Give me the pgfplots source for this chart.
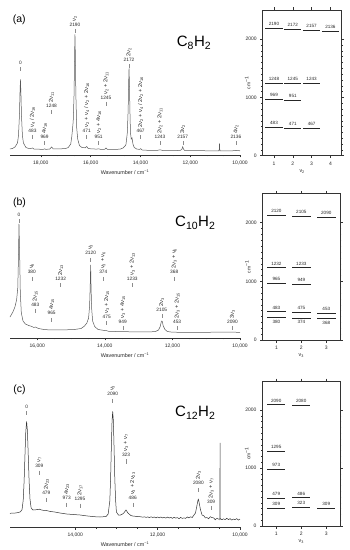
\documentclass[border=0pt]{standalone}
\usepackage{fontspec}
\setmainfont{Liberation Sans}
\usepackage{pgfplots}
\pgfplotsset{compat=1.18}
\newcommand{\fs}[1]{\fontsize{#1}{#1}\selectfont}
\newcommand{\nus}[1]{ν\textsubscript{#1}}
\tikzset{
  lbl/.style={font=\fs{4.8}, inner sep=0pt, text=black!85},
  rlbl/.style={font=\fs{5.6}, inner sep=0pt, rotate=90, anchor=west, text=black!85},
  atk/.style={black!45, line width=0.4pt},
  lvl/.style={font=\fs{4.6}, inner sep=0pt, text=black!85},
}
\newcommand{\ann}[4]{%
  \node[lbl] at (axis cs:#1,#2) {#3};
  \draw[atk] ([yshift=-4.5pt]axis cs:#1,#2) -- ([yshift=-8.5pt]axis cs:#1,#2);
  \node[rlbl] at ([yshift=3.2pt]axis cs:#1,#2) {#4};
}
\newcommand{\lv}[3]{\node[lvl] at ([yshift=4.2pt]axis cs:#1,#2) {#3};}
\newcommand{\lvb}[3]{\node[lvl] at ([yshift=-4.2pt]axis cs:#1,#2) {#3};}
\pgfplotsset{
  spec/.style={
    scale only axis, width=230pt, height=145pt,
    x dir=reverse, xmin=10000, ymin=0, ymax=145,
    axis x line*=bottom, axis y line=none, ytick=\empty,
    xtick pos=left, xticklabel pos=left,
    scaled x ticks=false,
    tick align=outside, major tick length=2.5pt, minor tick length=1.5pt,
    /pgf/number format/1000 sep={,}, /pgf/number format/assume math mode=true,
    ticklabel style={font=\fs{5}, text=black!85},
    xlabel={Wavenumber / cm\textsuperscript{−1}},
    xlabel style={font=\fs{5.4}, text=black!85, at={(axis description cs:0.5,0)}, anchor=center, yshift=-17pt},
    axis line style={black!80, line width=0.5pt},
    every tick/.style={black!80, line width=0.4pt},
    clip=false,
  },
  lev/.style={
    scale only axis,
    ymin=0, ymax=2500, ytick={0,1000,2000}, minor y tick num=9,
    scaled y ticks=false,
    tick align=outside, major tick length=2.5pt, minor tick length=1.3pt,
    /pgf/number format/1000 sep={}, /pgf/number format/assume math mode=true,
    ticklabel style={font=\fs{5}, text=black!85},
    ylabel={cm\textsuperscript{−1}},
    ylabel style={font=\fs{5}, text=black!85, at={(axis description cs:-0.19,0.5)}, anchor=center},
    xlabel style={font=\fs{5.4}, text=black!85, at={(axis description cs:0.5,0)}, anchor=center, yshift=-16pt},
    axis line style={black!80, line width=0.5pt},
    every tick/.style={black!80, line width=0.4pt},
    unbounded coords=jump,
    clip=false,
  },
  lvline/.style={black!85, line width=0.7pt},
  sline/.style={black!65, line width=0.5pt},
}
\begin{document}
\begin{tikzpicture}
\useasboundingbox (0,0) rectangle (349pt,550pt);

% ---------------- (a) spectrum ----------------
\begin{axis}[spec, at={(10pt,395pt)}, anchor=south west, xmax=19240,
  xtick={10000,12000,14000,16000,18000}, minor x tick num=2]
\addplot[sline] coordinates {
(10000,4.2) (10165,4.6) (10300,4.2) (10800,4.2) (10818,6) (10823,11.5) (10828,6) (10850,4.2)
(12000,4.3) (12220,4.5) (12260,5.5) (12285,7) (12301,8.2) (12317,7) (12340,5.5) (12400,4.6)
(12600,4.4) (13100,4.5) (13215,5.2) (13330,4.6) (13900,4.8) (13940,5.2) (13991,6.3) (14040,5.6)
(14150,6) (14250,7.5) (14300,11) (14337,17) (14370,16) (14400,22) (14423,45) (14440,70)
(14458,86.5) (14476,70) (14493,45) (14528,22) (14578,11) (14600,9.5) (14700,7) (14800,6)
(15000,5.5) (15330,5.6) (15385,7) (15440,5.7) (15600,5.6) (15679,6.2) (15760,5.9) (16000,6.2)
(16100,6.6) (16159,8.5) (16220,7.2) (16350,7.5) (16450,9.5) (16520,16) (16560,27) (16595,62)
(16613,98) (16630,120.5) (16647,97) (16665,62) (16700,34) (16735,24) (16760,18) (16800,11)
(16900,7.5) (17000,6.5) (17300,6) (17500,6) (17572,8) (17640,6) (17800,5.6) (17851,6.2)
(17900,5.6) (18100,5.8) (18280,6) (18337,7) (18400,6.5) (18500,6.6) (18600,7.5) (18700,12)
(18740,19) (18780,40) (18800,61.4) (18820,75.5) (18840,61.4) (18860,40) (18900,19) (18940,12)
(19040,8) (19140,6.5) (19240,6)
};
\ann{18820}{92}{0}{}
\ann{16630}{130.3}{2190}{\nus{2}}
\ann{14458}{95}{2172}{2\nus{2}}
\ann{17572}{49}{1248}{2\nus{11}}
\ann{18337}{24.3}{483}{\nus{4} / 2\nus{16}}
\ann{17851}{18.3}{969}{4\nus{16}}
\ann{16159}{24.3}{471}{\nus{2} + \nus{4} / \nus{2} + 2\nus{16}}
\ann{15385}{57.5}{1245}{\nus{2} + 2\nus{11}}
\ann{15679}{18.3}{951}{\nus{2} + 4\nus{16}}
\ann{13991}{24.3}{467}{2\nus{2} + \nus{4} / 2\nus{2} + 2\nus{16}}
\ann{13215}{18.3}{1243}{2\nus{2} + 2\nus{11}}
\ann{12301}{18.3}{2157}{3\nus{2}}
\ann{10165}{18.3}{2136}{4\nus{2}}
\end{axis}

% ---------------- (a) levels ----------------
\begin{axis}[lev, at={(262.7pt,394.3pt)}, anchor=south west, width=79pt, height=145.7pt,
  xmin=0.4, xmax=4.6, xtick={1,2,3,4}, xlabel={\nus{2}}]
\addplot[lvline] coordinates {
(0.54,2190) (1.46,2190) (1,nan) (0.54,1248) (1.46,1248) (1,nan) (0.54,969) (1.46,969) (1,nan) (0.54,483) (1.46,483) (1,nan)
(1.54,2172) (2.46,2172) (2,nan) (1.54,1245) (2.46,1245) (2,nan) (1.54,951) (2.46,951) (2,nan) (1.54,471) (2.46,471) (2,nan)
(2.54,2157) (3.46,2157) (3,nan) (2.54,1243) (3.46,1243) (3,nan) (2.54,467) (3.46,467) (3,nan)
(3.54,2136) (4.46,2136)
};
\lv{1}{2190}{2190}\lv{1}{1248}{1248}\lv{1}{969}{969}\lv{1}{483}{483}
\lv{2}{2172}{2172}\lv{2}{1245}{1245}\lv{2}{951}{951}\lv{2}{471}{471}
\lv{3}{2157}{2157}\lv{3}{1243}{1243}\lv{3}{467}{467}
\lv{4}{2136}{2136}
\end{axis}

% ---------------- (b) spectrum ----------------
\begin{axis}[spec, at={(10pt,212pt)}, anchor=south west, xmax=16805,
  xtick={10000,12000,14000,16000}, minor x tick num=3]
\addplot[sline] coordinates {
(10000,5.6) (10224,5.9) (11500,5.6) (12000,5.8) (12150,6.5) (12220,8.5) (12270,12) (12300,16.5)
(12314,16.9) (12330,16) (12360,11.5) (12410,8) (12500,6.5) (12700,6) (13000,6) (13470,6.4)
(13880,6.6) (13944,7.3) (14010,7.5) (14100,8) (14200,8.5) (14300,11.5) (14360,17) (14390,30)
(14406,50) (14419,73) (14432,52) (14450,32) (14480,20) (14530,15) (14600,12) (14700,9.5)
(14900,8.5) (15300,8) (15600,8) (15800,8.5) (15960,9.5) (16056,11) (16100,10.5) (16159,11.5)
(16250,12.5) (16350,14) (16420,17) (16470,25) (16500,45) (16520,85) (16539,114) (16555,80)
(16575,50) (16610,38) (16660,31) (16720,26) (16805,21)
};
\ann{16539}{123}{0}{}
\ann{16159}{65.7}{380}{\nus{6}}
\ann{15307}{59}{1232}{2\nus{13}}
\ann{14419}{84.7}{2120}{\nus{3}}
\ann{14045}{65.7}{374}{\nus{3} + \nus{6}}
\ann{13186}{59}{1233}{\nus{3} + 2\nus{13}}
\ann{11946}{65.7}{368}{2\nus{3} + \nus{6}}
\ann{16056}{33}{483}{2\nus{15}}
\ann{15574}{24.7}{965}{4\nus{15}}
\ann{13944}{21.3}{475}{\nus{3} + 2\nus{15}}
\ann{13470}{16.3}{949}{\nus{3} + 4\nus{15}}
\ann{12314}{28}{2105}{2\nus{3}}
\ann{11861}{16.3}{453}{2\nus{3} + 2\nus{15}}
\ann{10224}{16.3}{2090}{3\nus{3}}
\end{axis}

% ---------------- (b) levels ----------------
\begin{axis}[lev, at={(262.7pt,210pt)}, anchor=south west, width=77.3pt, height=146.7pt,
  xmin=0.45, xmax=3.55, xtick={1,2,3}, xlabel={\nus{3}}]
\addplot[lvline] coordinates {
(0.63,2120) (1.37,2120) (1,nan) (0.63,1232) (1.37,1232) (1,nan) (0.63,965) (1.37,965) (1,nan) (0.63,483) (1.37,483) (1,nan) (0.63,380) (1.37,380) (1,nan)
(1.63,2105) (2.37,2105) (2,nan) (1.63,1233) (2.37,1233) (2,nan) (1.63,949) (2.37,949) (2,nan) (1.63,475) (2.37,475) (2,nan) (1.63,374) (2.37,374) (2,nan)
(2.63,2090) (3.37,2090) (3,nan) (2.63,453) (3.37,453) (3,nan) (2.63,368) (3.37,368)
};
\lv{1}{2120}{2120}\lv{1}{1232}{1232}\lv{1}{965}{965}\lv{1}{483}{483}\lvb{1}{380}{380}
\lv{2}{2105}{2105}\lv{2}{1233}{1233}\lv{2}{949}{949}\lv{2}{475}{475}\lvb{2}{374}{374}
\lv{3}{2090}{2090}\lv{3}{453}{453}\lvb{3}{368}{368}
\end{axis}

% ---------------- (c) spectrum ----------------
\begin{axis}[spec, at={(10pt,23pt)}, anchor=south west, xmax=15583,
  xtick={10000,12000,14000}, minor x tick num=3]
\addplot[black!80, line width=0.5pt] coordinates {
(10000,8.0) (10040,6.9) (10080,8.4) (10120,7.3) (10160,7.9) (10200,6.9) (10240,8.4) (10280,7.4)
(10320,8.7) (10360,7.4) (10400,8.2) (10440,7.3) (10480,8.4) (10484,8.0) (10485,84) (10486,8.0)
(10520,7.8) (10560,8.8) (10600,7.2) (10640,9.2) (10680,9.3) (10720,10.3) (10760,8.3) (10800,9.4)
(10840,9.1) (10880,11.3) (10920,11.9) (10960,17.4) (11000,26.1) (11010,27.7) (11020,26.9) (11040,22.5)
(11080,14.0) (11120,11.9) (11160,9.5) (11200,10.2) (11240,9.2) (11280,10.0) (11320,8.6) (11360,9.1)
(11400,8.6) (11440,9.6) (11480,8.3) (11520,9.4) (11560,8.9) (11600,9.7) (11640,8.6) (11680,9.7)
(11720,9.0) (11760,9.9) (11800,8.9) (11840,9.7) (11880,9.1) (11920,10.0) (11960,9.2) (12000,10.0)
(12040,9.1) (12080,10.0) (12120,9.5) (12160,10.2) (12200,9.4) (12240,10.1) (12280,9.6) (12320,10.2)
(12360,9.8) (12400,10.2) (12500,10.5) (12604,11) (12650,11.5) (12720,14) (12767,17) (12830,13.5)
(12900,12) (12950,12) (13000,15) (13020,27) (13040,50) (13060,84.7) (13075,106.8) (13090,115.6)
(13105,106.8) (13120,84.7) (13140,50) (13160,26) (13200,13) (13250,10.5) (13398,10) (13500,10.2)
(13700,11) (13883,12) (14050,12.5) (14207,13) (14369,14) (14500,15) (14600,15.5) (14701,16.5)
(14800,16.8) (14871,17.8) (14960,17.2) (15024,17) (15070,19) (15098,28) (15120,47) (15139,70.6)
(15160,96) (15180,105.6) (15200,95) (15221,70) (15240,46) (15262,27) (15290,17.5) (15330,15.2)
(15380,14.5) (15450,14) (15583,13.7)
};
\ann{15180}{120.3}{0}{}
\ann{13090}{132.7}{2090}{\nus{3}}
\ann{12767}{72}{323}{\nus{3} + \nus{7}}
\ann{14871}{61}{309}{\nus{7}}
\ann{14701}{33.7}{479}{2\nus{23}}
\ann{14207}{28.7}{973}{4\nus{23}}
\ann{13885}{28}{1295}{2\nus{17}}
\ann{12604}{28.7}{486}{\nus{3} + 2\nus{23}}
\ann{11010}{43.7}{2080}{2\nus{3}}
\ann{10701}{25.3}{309}{2\nus{3} + \nus{7}}
\end{axis}

% ---------------- (c) levels ----------------
\begin{axis}[lev, at={(262.5pt,24pt)}, anchor=south west, width=77.5pt, height=145pt,
  xmin=0.45, xmax=3.55, xtick={1,2,3}, xlabel={\nus{3}}]
\addplot[lvline] coordinates {
(0.64,2090) (1.36,2090) (1,nan) (0.64,1295) (1.36,1295) (1,nan) (0.64,973) (1.36,973) (1,nan) (0.64,479) (1.36,479) (1,nan) (0.64,309) (1.36,309) (1,nan)
(1.64,2080) (2.36,2080) (2,nan) (1.64,486) (2.36,486) (2,nan) (1.64,323) (2.36,323) (2,nan)
(2.64,309) (3.36,309)
};
\lv{1}{2090}{2090}\lv{1}{1295}{1295}\lv{1}{973}{973}\lv{1}{479}{479}\lv{1}{309}{309}
\lv{2}{2080}{2080}\lv{2}{486}{486}\lv{2}{323}{323}
\lv{3}{309}{309}
\end{axis}

% ---------------- panel labels and formulas ----------------
\node[font=\fs{10.5}, inner sep=0pt] at (19.3pt,530pt) {(a)};
\node[font=\fs{10.5}, inner sep=0pt] at (19.5pt,347.5pt) {(b)};
\node[font=\fs{10.5}, inner sep=0pt] at (19.5pt,160pt) {(c)};
\node[font=\fs{15}, inner sep=0pt, anchor=base west] at (176.7pt,503.3pt) {C\textsubscript{8}H\textsubscript{2}};
\node[font=\fs{15}, inner sep=0pt, anchor=base west] at (175pt,323.3pt) {C\textsubscript{10}H\textsubscript{2}};
\node[font=\fs{15}, inner sep=0pt, anchor=base west] at (175pt,133.3pt) {C\textsubscript{12}H\textsubscript{2}};
\end{tikzpicture}
\end{document}
